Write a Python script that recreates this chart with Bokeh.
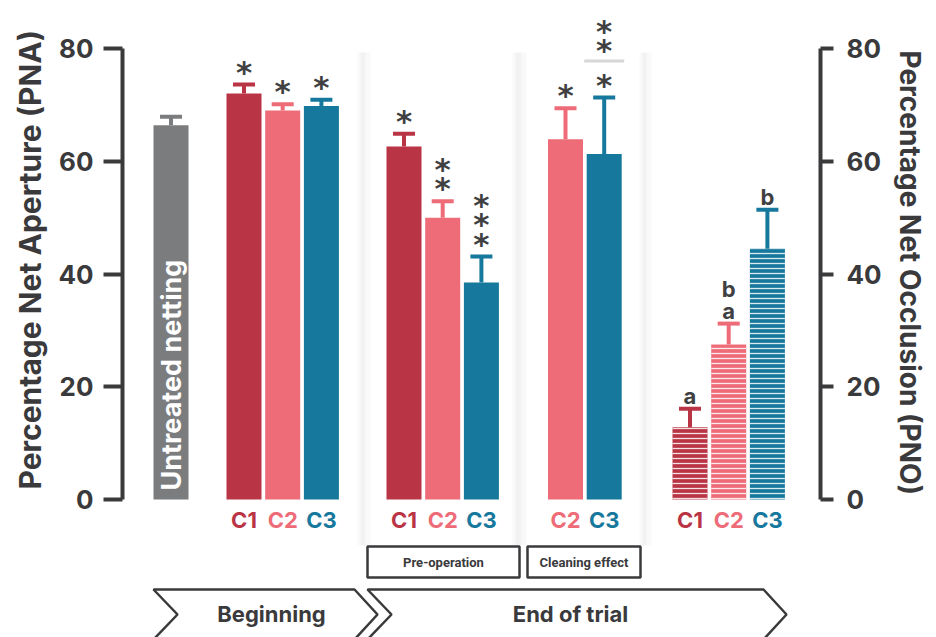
import math

from bokeh.core.properties import value
from bokeh.embed import file_html
from bokeh.models import FixedTicker, LinearAxis, Range1d, Title
from bokeh.plotting import figure
from bokeh.resources import INLINE

# ---------------------------------------------------------------- data
conditions = ["C1", "C2", "C3"]

untreated_pna = 66.4
untreated_err = 1.5

beginning_pna = [72.0, 69.0, 69.8]
beginning_err = [1.6, 1.1, 1.1]
beginning_sig = ["*", "*", "*"]

preop_pna = [62.6, 50.0, 38.5]
preop_err = [2.3, 2.9, 4.6]
preop_sig = ["*", "**", "***"]

cleaning_conditions = ["C2", "C3"]
cleaning_pna = [63.9, 61.3]
cleaning_err = [5.5, 10.0]
cleaning_sig = ["*", "***"]

occlusion_pno = [12.8, 27.5, 44.5]
occlusion_err = [3.3, 3.7, 6.9]
occlusion_letters = [["a"], ["a", "b"], ["b"]]  # listed bottom to top

y_ticks = [0, 20, 40, 60, 80]

# ---------------------------------------------------------------- styling
W, H = 936, 637
FRAME_L, FRAME_R = 122, 820          # x of the two vertical axes
ZERO_PX, TOP_PX = 499, 48            # canvas rows of 0 and 80
PX = (ZERO_PX - TOP_PX) / 80.0       # pixels per percentage unit

COND_COLORS = {"C1": "#b93444", "C2": "#ee6b78", "C3": "#16789c"}
GREY = "#7b7c7e"
INK = "#3a3a3c"
FONT_NAME = "Inter"
FONT = value(FONT_NAME)
NARROW = value("Roboto")

BAR_W = 35
STEP = 38.7
UNTREATED_X = 170.5
GROUP_X0 = {"beginning": 243.5, "preop": 403.5, "cleaning": 565.0, "occlusion": 689.5}


def vy(py):
    """Canvas row (from the top) to a value on the percentage scale."""
    return (ZERO_PX - py) / PX


def dy(pixels):
    return pixels / PX


p = figure(
    width=W, height=H,
    x_range=Range1d(FRAME_L, FRAME_R),
    y_range=Range1d(vy(H), vy(0)),
    x_axis_type=None, y_axis_type=None,
    min_border_left=FRAME_L, min_border_right=W - FRAME_R,
    min_border_top=0, min_border_bottom=0,
    output_backend="svg", toolbar_location=None,
)
p.outline_line_color = None
p.background_fill_color = "white"
p.border_fill_color = "white"

# soft panel edges between the measurement stages
for x0, x1 in [(357, 370), (512, 526), (639, 651)]:
    p.quad(left=x0, right=x1, bottom=vy(545), top=vy(52),
           fill_color="#ececec", fill_alpha=0.3, line_color=None)
    p.quad(left=x0 + 3, right=x1 - 5, bottom=vy(545), top=vy(52),
           fill_color="#e2e2e2", fill_alpha=0.3, line_color=None)

# ---------------------------------------------------------------- axes
def style_axis(ax, tick_out, standoff):
    ax.ticker = FixedTicker(ticks=y_ticks)
    ax.bounds = (0, 80)
    ax.axis_line_width = 4
    ax.axis_line_color = INK
    ax.major_tick_line_width = 4
    ax.major_tick_line_color = INK
    ax.major_tick_out = tick_out
    ax.major_tick_in = 0
    ax.minor_tick_line_color = None
    ax.major_label_text_font = FONT_NAME
    ax.major_label_text_font_style = "bold"
    ax.major_label_text_font_size = "26px"
    ax.major_label_text_color = INK
    ax.major_label_standoff = standoff


left_axis = LinearAxis()
style_axis(left_axis, 19, 10)
p.add_layout(left_axis, "left")

right_axis = LinearAxis()
style_axis(right_axis, 13, 13)
p.add_layout(right_axis, "right")

# axis titles, starting level with the 0 tick and running along the axis
for side, offset, title, size in [("left", H - 489, "Percentage Net Aperture (PNA)", "30px"),
                                  ("right", 50, "Percentage Net Occlusion (PNO)", "28px")]:
    p.add_layout(Title(text=title, align="left", offset=offset, standoff=16,
                       text_font=FONT_NAME, text_font_style="bold",
                       text_font_size=size, text_color=INK), side)


# ---------------------------------------------------------------- bars
def error_bars(xs, tops, errs, colors):
    ups = [t + e for t, e in zip(tops, errs)]
    p.segment(x0=xs, y0=tops, x1=xs, y1=ups, line_color=colors, line_width=4)
    p.segment(x0=[x - 11 for x in xs], y0=ups, x1=[x + 11 for x in xs], y1=ups,
              line_color=colors, line_width=4)
    return ups


def stacked_marks(x, base, marks, color, size, font, first, step,
                  split_after=None, split_gap=0):
    ys, txt = [], []
    off = first
    for k, m in enumerate(marks):
        ys.append(base + dy(off))
        txt.append(m)
        off += step
        if split_after is not None and k == split_after:
            off += split_gap
    p.text(x=[x] * len(ys), y=ys, text=txt, text_align="center", text_baseline="middle",
           text_font=font, text_font_style="bold",
           text_font_size=size, text_color=color)


def asterisks(x, base, n, **kw):
    stacked_marks(x, base, ["*"] * n, "#404042", "31px", value("DejaVu Sans"),
                  first=13, step=19.5, **kw)


# untreated netting
p.vbar(x=[UNTREATED_X], top=[untreated_pna], bottom=0, width=BAR_W,
       fill_color=GREY, line_color=None)
error_bars([UNTREATED_X], [untreated_pna], [untreated_err], [GREY])
p.text(x=[UNTREATED_X], y=[vy(490)], text=["Untreated netting"], angle=math.pi / 2,
       text_align="left", text_baseline="middle", text_font=FONT,
       text_font_style="bold", text_font_size="27px", text_color="white")


def group(key, conds, vals, errs, hatched=False):
    xs = [GROUP_X0[key] + i * STEP for i in range(len(conds))]
    cols = [COND_COLORS[c] for c in conds]
    if hatched:
        p.vbar(x=xs, top=vals, bottom=0, width=BAR_W, fill_color=cols, line_color=None,
               hatch_pattern="horizontal_line", hatch_color="white",
               hatch_alpha=0.85, hatch_scale=5, hatch_weight=1.3)
    else:
        p.vbar(x=xs, top=vals, bottom=0, width=BAR_W, fill_color=cols, line_color=None)
    ups = error_bars(xs, vals, errs, cols)
    p.text(x=xs, y=[vy(519)] * len(xs), text=conds, text_color=cols,
           text_align="center", text_baseline="middle", text_font=FONT,
           text_font_style="bold", text_font_size="22px")
    return xs, ups


xs, ups = group("beginning", conditions, beginning_pna, beginning_err)
for x, u, s in zip(xs, ups, beginning_sig):
    asterisks(x, u, len(s))

xs, ups = group("preop", conditions, preop_pna, preop_err)
for x, u, s in zip(xs, ups, preop_sig):
    asterisks(x, u, len(s))

xs, ups = group("cleaning", cleaning_conditions, cleaning_pna, cleaning_err)
for i, (x, u, s) in enumerate(zip(xs, ups, cleaning_sig)):
    if i == 1:
        asterisks(x, u, len(s), split_after=0, split_gap=15)
        # faint shadow of the panel edge under the upper pair
        p.quad(left=x - 20, right=x + 20, bottom=u + dy(35), top=u + dy(38),
               fill_color="#bdbdbd", fill_alpha=0.6, line_color=None)
    else:
        asterisks(x, u, len(s))

xs, ups = group("occlusion", conditions, occlusion_pno, occlusion_err, hatched=True)
for x, u, letters in zip(xs, ups, occlusion_letters):
    stacked_marks(x, u, letters, "#404042", "22px", FONT, first=13, step=22)

# ---------------------------------------------------------------- stage labels
for left, right, label in [(367, 519, "Pre-operation"), (527, 640, "Cleaning effect")]:
    p.quad(left=left, right=right, top=vy(546), bottom=vy(577),
           fill_color="white", line_color=INK, line_width=2.5)
    p.text(x=[(left + right) / 2], y=[vy(561.5)], text=[label], text_align="center",
           text_baseline="middle", text_font=NARROW, text_font_style="bold",
           text_font_size="13px", text_color=INK)

for x0, x1, label, cx in [(153, 354, "Beginning", 271), (367, 763, "End of trial", 570)]:
    p.patch(x=[x0, x1, x1 + 23, x1, x0, x0 + 24],
            y=[vy(589), vy(589), vy(614), vy(639), vy(639), vy(614)],
            fill_color="white", line_color=INK, line_width=2.5)
    p.text(x=[cx], y=[vy(613)], text=[label], text_align="center", text_baseline="middle",
           text_font=FONT, text_font_style="bold", text_font_size="22px", text_color=INK)

open("out.html", "w").write(file_html(p, INLINE))
